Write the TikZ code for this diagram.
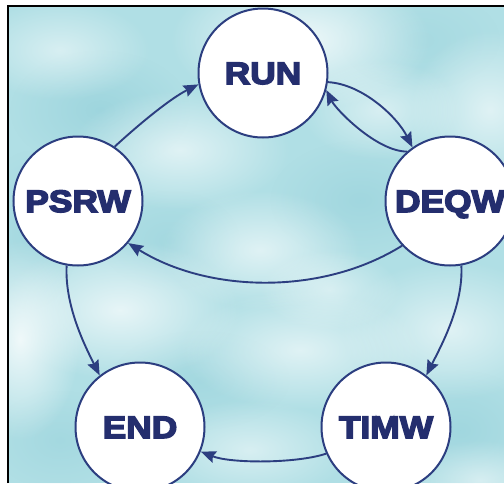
\documentclass[tikz,border=0pt]{standalone}
\usepackage{fontspec}
\newfontfamily\lblfont{Liberation Sans}[BoldFeatures={FakeStretch=1.14,FakeBold=5}]
\usetikzlibrary{arrows.meta,fadings}

\definecolor{skyteal}{RGB}{176,223,229}
\definecolor{deepteal}{RGB}{146,207,217}
\definecolor{edgeblue}{RGB}{44,62,128}
\definecolor{labelblue}{RGB}{36,46,110}

% soft round blob used for the cloudy backdrop
\tikzfading[name=softblob, inner color=transparent!0, outer color=transparent!100]

\begin{document}
\begin{tikzpicture}[x=1pt,y=-1pt,
  state/.style={circle, draw=edgeblue, line width=2pt, fill=white,
    minimum size=129pt, inner sep=0pt, text=labelblue,
    text height=22pt, text depth=0pt,
    font=\lblfont\bfseries\fontsize{31}{31}\selectfont},
  link/.style={draw=edgeblue, line width=1.9pt,
    -{Stealth[length=15pt,width=12pt,inset=2pt]}},
  lightblob/.style={fill=white, path fading=softblob},
  darkblob/.style={fill=deepteal, path fading=softblob}]

\useasboundingbox (0,0) rectangle (504,483);
\fill[white] (0,0) rectangle (504,483);

% cloudy teal backdrop
\begin{scope}
  \clip (8,6) rectangle (504,483);
  \fill[skyteal] (8,6) rectangle (504,483);
  \foreach \x/\y/\rx/\ry/\o in {
      100/110/90/60/0.6, 360/200/90/60/0.5, 200/380/90/50/0.4,
      460/430/80/60/0.5, 30/230/50/80/0.4, 170/240/70/50/0.4,
      420/40/80/50/0.3, 60/440/70/50/0.4}
    \fill[darkblob, fill opacity=\o] (\x,\y) ellipse [x radius=\rx, y radius=\ry];
  \foreach \x/\y/\rx/\ry/\o in {
      300/40/130/70/0.8, 180/150/110/60/0.6, 120/310/120/70/0.7,
      20/340/60/100/0.8, 450/330/110/70/0.6, 300/350/120/60/0.6,
      260/250/100/60/0.6, 490/110/80/80/0.6, 60/50/90/50/0.5,
      380/110/80/50/0.5, 250/450/100/50/0.5, 480/480/70/40/0.5,
      330/290/70/40/0.5}
    \fill[lightblob, fill opacity=\o] (\x,\y) ellipse [x radius=\rx, y radius=\ry];
\end{scope}
\draw[line width=1.5pt] (8,483) -- (8,6) -- (504,6);

% states
\node[state] (run)  at (263,73)  {RUN};
\node[state] (psrw) at (78,201)  {PSRW};
\node[state] (deqw) at (450,201) {DEQW};
\node[state] (end)  at (140,427) {END};
\node[state] (timw) at (386,427) {TIMW};

% transitions
\draw[link] (psrw.56) .. controls +(25,-23) and +(-28,14) .. (run.190);
\draw[link] (run.-8) .. controls +(35,2) and +(-15,-30) .. (deqw.125);
\draw[link] (deqw.131) .. controls +(-30,0) and +(10,20) .. (run.-15);
\draw[link] (deqw.223) .. controls +(-80,50) and +(80,50) .. (psrw.-40);
\draw[link] (deqw.-80) .. controls +(2,40) and +(15,-30) .. (timw.52);
\draw[link] (psrw.-100) .. controls +(-2,40) and +(-15,-30) .. (end.128);
\draw[link] (timw.204) .. controls +(-30,10) and +(30,12) .. (end.-22);
\end{tikzpicture}
\end{document}
